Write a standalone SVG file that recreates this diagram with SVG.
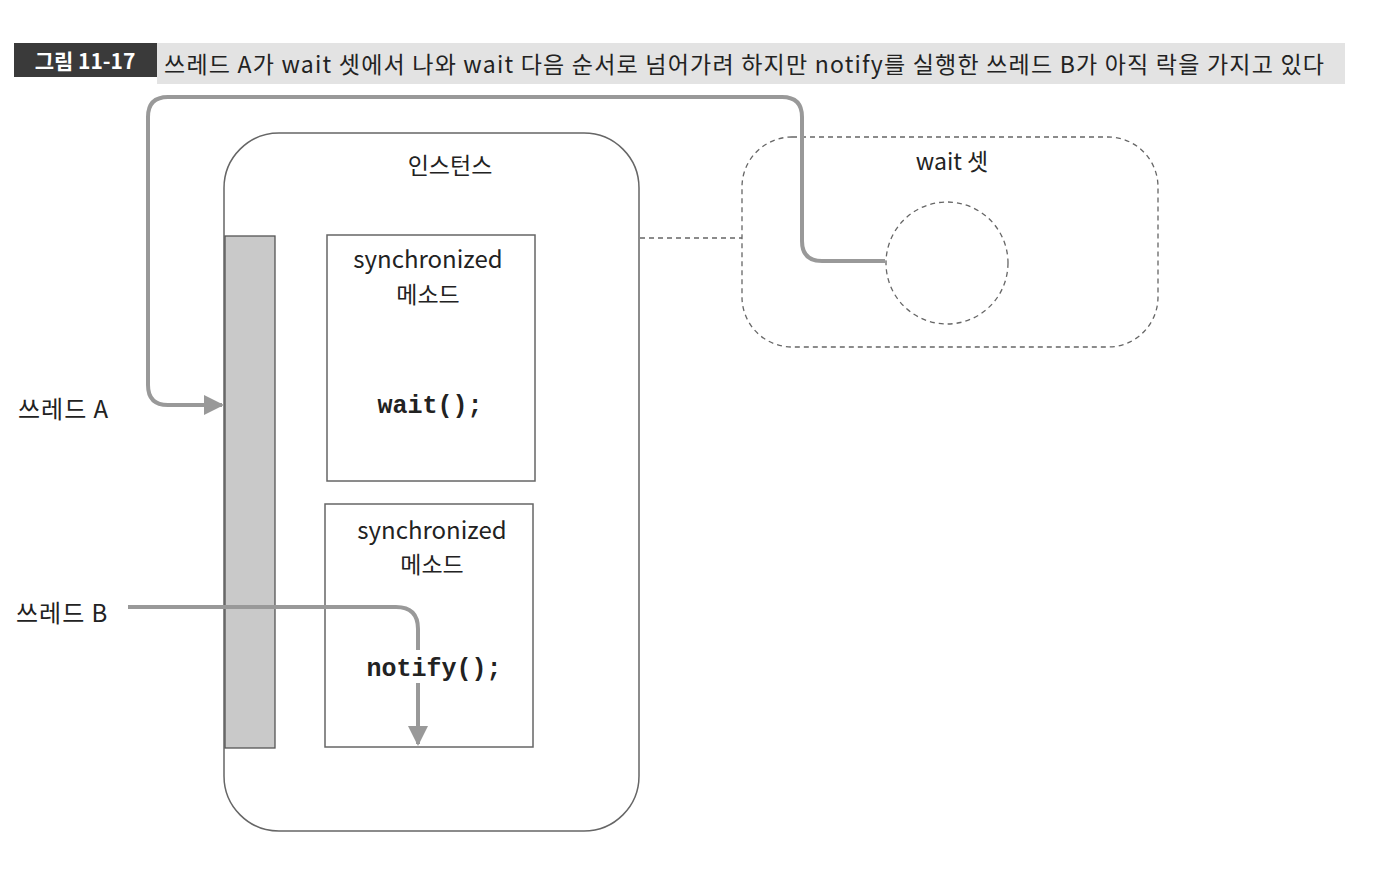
<svg xmlns="http://www.w3.org/2000/svg" width="1392" height="880" viewBox="0 0 1392 880">
<style>
.k{font-family:"Noto Sans CJK KR","Liberation Sans",sans-serif;fill:#222}
.m{font-family:"Liberation Mono",monospace;font-weight:bold;fill:#222}
.flow{fill:none;stroke:#999;stroke-width:4}
.dash{fill:none;stroke:#666;stroke-width:1.3;stroke-dasharray:5 4}
.box{fill:#fff;stroke:#666;stroke-width:1.5}
</style>
<defs>
<marker id="ah" viewBox="0 0 10 10" refX="9" refY="5" markerWidth="5" markerHeight="5" orient="auto" markerUnits="strokeWidth">
<path d="M0,0 L10,5 L0,10 z" fill="#999"/>
</marker>
</defs>
<rect width="1392" height="880" fill="#fff"/>
<g id="title">
<rect x="157" y="43" width="1188" height="41" fill="#e3e3e3"/>
<rect x="14" y="43" width="143" height="34" fill="#3a3a3a"/>
<text x="85" y="69" text-anchor="middle" font-family="Noto Sans CJK KR,sans-serif" font-weight="bold" font-size="21" fill="#fff">그림 11-17</text>
<text x="164" y="73" class="k" font-size="23" textLength="1160" lengthAdjust="spacing">쓰레드 A가 wait 셋에서 나와 wait 다음 순서로 넘어가려 하지만 notify를 실행한 쓰레드 B가 아직 락을 가지고 있다</text>
</g>
<g id="instance">
<rect x="224" y="133" width="415" height="698" rx="55" class="box"/>
<text x="450" y="174" text-anchor="middle" class="k" font-size="23">인스턴스</text>
</g>
<g id="lockbar">
<rect x="225" y="236" width="50" height="512" fill="#c9c9c9" stroke="#555" stroke-width="1.3"/>
</g>
<g id="method1">
<rect x="327" y="235" width="208" height="246" class="box"/>
<text x="428" y="268" text-anchor="middle" class="k" font-size="24">synchronized</text>
<text x="428" y="303" text-anchor="middle" class="k" font-size="23">메소드</text>
<text x="430" y="413" text-anchor="middle" class="m" font-size="25">wait();</text>
</g>
<g id="method2">
<rect x="325" y="504" width="208" height="243" class="box"/>
<text x="432" y="539" text-anchor="middle" class="k" font-size="24">synchronized</text>
<text x="432" y="573" text-anchor="middle" class="k" font-size="23">메소드</text>
<text x="434" y="676" text-anchor="middle" class="m" font-size="25">notify();</text>
</g>
<g id="waitset">
<rect x="742" y="137" width="416" height="210" rx="50" class="dash"/>
<text x="952" y="170" text-anchor="middle" class="k" font-size="23">wait 셋</text>
<circle cx="947" cy="263" r="61" class="dash"/>
</g>
<g id="threadA">
<text x="18" y="418" class="k" font-size="24" letter-spacing="1">쓰레드 A</text>
</g>
<g id="threadB">
<text x="16" y="622" class="k" font-size="24" letter-spacing="1">쓰레드 B</text>
</g>
<g id="connectors">
<line x1="640" y1="238" x2="742" y2="238" class="dash"/>
<path d="M885,261 H822 Q802,261 802,241 V117 Q802,97 782,97 H168 Q148,97 148,117 V385 Q148,405 168,405 H222" class="flow" marker-end="url(#ah)"/>
<path d="M128,607 H396 Q418,607 418,629 V650" class="flow"/>
<path d="M418,683 V744" class="flow" marker-end="url(#ah)"/>
</g>
</svg>
